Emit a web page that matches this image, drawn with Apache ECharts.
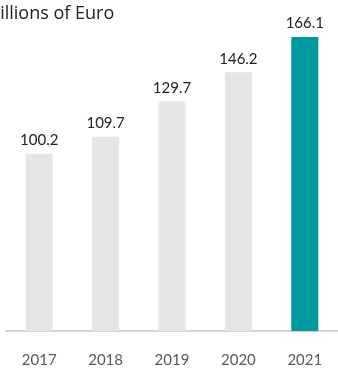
<!DOCTYPE html>
<html>
<head>
<meta charset="utf-8">
<script src="https://cdn.jsdelivr.net/npm/echarts@6/dist/echarts.min.js"></script>
<style>
	html, body { margin: 0; padding: 0; background: #fff; }
	#main { width: 338px; height: 368px; }
</style>
</head>
<body>
<div id="main"></div>
<script>
	// 年份和数值
	var years = ['2017', '2018', '2019', '2020', '2021'];
	var values = [100.2, 109.7, 129.7, 146.2, 166.1];
	var barColors = ['#e5e5e5', '#e5e5e5', '#e5e5e5', '#e5e5e5', '#00999f'];

	var myChart = echarts.init(document.getElementById('main'));

	var data = [];
	for (var i = 0; i < values.length; i++) {
		data.push({
			value: values[i],
			itemStyle: { color: barColors[i] }
		});
	};

	var option = {
		animation: false,
		textStyle: { fontFamily: 'Lato' },
		graphic: [{
			type: 'text',
			left: -16,
			top: 5,
			style: {
				text: 'Millions of Euro',
				fill: '#222',
				font: '18px "Open Sans"'
			}
		}],
		grid: {
			top: 37,
			left: 6,
			right: -2,
			bottom: 32,
			containLabel: false
		},
		xAxis: {
			type: 'category',
			data: years,
			axisTick: { show: false },
			axisLine: {
				lineStyle: { color: '#d4d4d4', width: 2 }
			},
			axisLabel: {
				color: '#595959',
				fontSize: 15,
				margin: 22
			}
		},
		yAxis: {
			type: 'value',
			min: 0,
			max: 166.1,
			show: false,
			splitLine: { show: false }
		},
		series: [{
			type: 'bar',
			barWidth: 27,
			data: data,
			label: {
				show: true,
				position: 'top',
				distance: 6,
				color: '#222',
				fontSize: 15
			}
		}]
	};
	myChart.setOption(option);
</script>
</body>
</html>
